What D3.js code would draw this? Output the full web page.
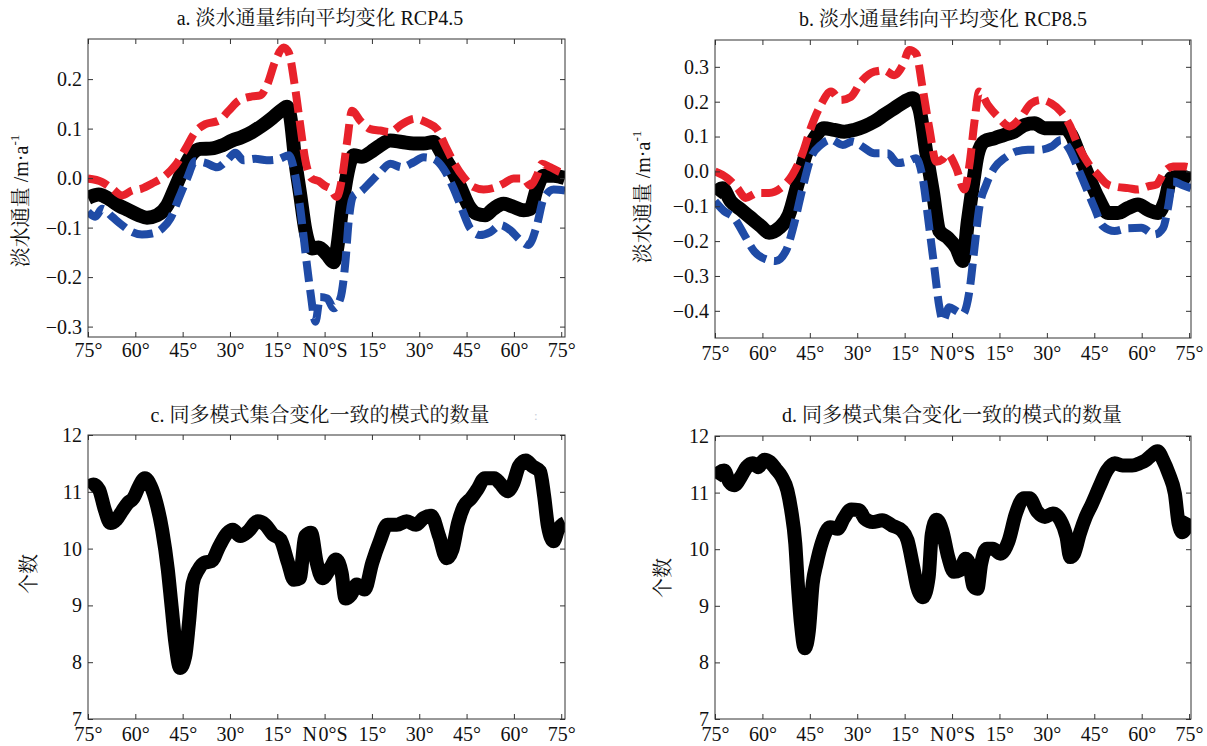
<!DOCTYPE html>
<html><head><meta charset="utf-8">
<script src="https://cdn.jsdelivr.net/npm/d3@7"></script>
<style>
body{margin:0;background:#fff}
</style>
</head><body>
<svg id="chart" width="1207" height="746"></svg>
<script>
// ---------- data (latitude: + = N, - = S) ----------
const latTicks = [75,60,45,30,15,0,-15,-30,-45,-60,-75];
const ticksA = [0.2,0.1,0.0,-0.1,-0.2,-0.3];
const ticksB = [0.3,0.2,0.1,0.0,-0.1,-0.2,-0.3,-0.4];
const ticksCount = [7,8,9,10,11,12];

// panel a: RCP4.5 ensemble mean, upper, lower
const aMean = [[75,-0.040],[71.6,-0.033],[68.4,-0.042],[65.3,-0.055],[62.1,-0.065],[58.9,-0.075],[56.3,-0.080],[53.1,-0.075],[49.9,-0.055],[47.3,-0.018],[44.7,0.019],[42.0,0.049],[39.4,0.059],[35.7,0.060],[32.5,0.066],[29.3,0.076],[26.2,0.083],[23.0,0.093],[19.8,0.106],[16.7,0.121],[13.5,0.138],[11.9,0.144],[10.9,0.125],[9.3,0.035],[7.7,-0.035],[6.1,-0.105],[4.0,-0.142],[1.9,-0.140],[-0.8,-0.155],[-2.9,-0.170],[-3.9,-0.145],[-5.5,-0.062],[-7.1,0.005],[-9.2,0.046],[-11.8,0.043],[-14.5,0.052],[-17.6,0.066],[-20.8,0.076],[-24.5,0.073],[-28.2,0.070],[-31.4,0.070],[-34.5,0.073],[-37.2,0.049],[-40.4,0.016],[-43.0,-0.018],[-45.6,-0.055],[-48.3,-0.072],[-50.9,-0.075],[-53.5,-0.062],[-56.7,-0.052],[-59.9,-0.058],[-63.1,-0.065],[-65.2,-0.062],[-67.3,-0.021],[-69.4,0.005],[-72.6,0.005],[-76.2,0.000]];
const aHigh = [[75,-0.001],[70.5,-0.008],[67.4,-0.021],[64.2,-0.035],[61.0,-0.025],[57.9,-0.021],[54.7,-0.011],[50.5,0.005],[47.3,0.026],[44.1,0.059],[41.0,0.093],[37.8,0.109],[33.6,0.116],[30.4,0.136],[27.3,0.156],[23.0,0.165],[20.4,0.167],[18.3,0.187],[15.6,0.237],[13.0,0.264],[11.4,0.254],[9.3,0.180],[7.7,0.106],[6.1,0.036],[4.0,-0.001],[1.9,-0.006],[-0.2,-0.016],[-1.8,-0.021],[-3.9,-0.038],[-5.5,-0.001],[-7.1,0.072],[-8.7,0.136],[-11.3,0.116],[-14.5,0.099],[-17.6,0.096],[-20.8,0.093],[-24.5,0.109],[-28.7,0.120],[-32.4,0.112],[-35.6,0.099],[-38.2,0.066],[-40.9,0.032],[-44.0,0.002],[-47.2,-0.018],[-50.4,-0.023],[-53.5,-0.020],[-56.7,-0.011],[-59.9,-0.001],[-63.1,-0.001],[-65.2,-0.015],[-67.3,0.005],[-68.9,0.029],[-71.5,0.022],[-74.7,0.012],[-76.2,0.009]];
const aLow = [[75,-0.068],[72.7,-0.078],[70.5,-0.062],[67.4,-0.078],[64.2,-0.095],[61.0,-0.109],[57.9,-0.114],[54.7,-0.112],[51.5,-0.102],[48.9,-0.082],[46.3,-0.042],[43.6,-0.001],[41.0,0.034],[37.8,0.031],[34.1,0.022],[30.9,0.036],[28.3,0.051],[25.7,0.036],[22.0,0.039],[18.3,0.036],[14.6,0.038],[11.4,0.046],[9.3,0.005],[7.7,-0.062],[6.1,-0.149],[4.5,-0.230],[2.9,-0.290],[1.4,-0.240],[-0.8,-0.243],[-2.9,-0.263],[-5.0,-0.243],[-6.6,-0.169],[-7.6,-0.089],[-9.2,-0.035],[-11.3,-0.028],[-14.5,-0.008],[-17.6,0.012],[-20.8,0.029],[-24.5,0.022],[-28.2,0.032],[-31.4,0.042],[-34.5,0.039],[-37.7,0.019],[-40.9,-0.021],[-43.5,-0.062],[-46.2,-0.102],[-49.3,-0.115],[-52.5,-0.109],[-55.7,-0.095],[-58.8,-0.105],[-62.0,-0.125],[-64.6,-0.135],[-67.3,-0.095],[-69.4,-0.042],[-72.6,-0.023],[-76.2,-0.025]];

// panel b: RCP8.5 ensemble mean, upper, lower
const bMean = [[75,-0.067],[72.7,-0.048],[70.0,-0.086],[66.9,-0.109],[63.7,-0.133],[60.5,-0.157],[57.9,-0.176],[54.7,-0.162],[51.6,-0.124],[48.9,-0.038],[46.3,0.048],[43.6,0.095],[40.5,0.124],[37.3,0.119],[34.1,0.114],[31.0,0.119],[27.8,0.129],[24.6,0.143],[21.5,0.162],[18.3,0.181],[15.1,0.200],[12.5,0.210],[10.4,0.181],[8.2,0.057],[6.1,-0.057],[4.0,-0.171],[1.4,-0.190],[-1.3,-0.219],[-3.4,-0.257],[-5.0,-0.143],[-6.6,-0.038],[-8.1,0.048],[-10.2,0.086],[-13.4,0.095],[-16.6,0.105],[-19.7,0.114],[-22.9,0.133],[-26.1,0.138],[-29.2,0.124],[-32.4,0.124],[-35.6,0.124],[-37.7,0.105],[-40.3,0.048],[-43.0,-0.010],[-46.2,-0.076],[-49.3,-0.119],[-52.5,-0.119],[-55.7,-0.105],[-58.8,-0.095],[-62.0,-0.110],[-65.2,-0.119],[-67.3,-0.086],[-69.4,-0.019],[-72.6,-0.014],[-75.6,-0.025]];
const bHigh = [[75,0.000],[71.1,-0.019],[67.9,-0.048],[65.3,-0.076],[61.6,-0.062],[57.9,-0.062],[54.2,-0.048],[50.5,-0.010],[47.3,0.052],[44.7,0.124],[41.5,0.191],[38.3,0.229],[35.2,0.205],[32.0,0.214],[28.8,0.257],[24.6,0.286],[21.5,0.290],[18.3,0.276],[15.6,0.305],[13.5,0.348],[11.4,0.338],[9.3,0.238],[7.2,0.124],[5.0,0.028],[3.0,0.035],[1.4,0.050],[-1.3,0.010],[-3.9,-0.052],[-5.5,0.019],[-7.1,0.143],[-8.6,0.229],[-11.3,0.191],[-14.5,0.157],[-18.2,0.129],[-21.9,0.157],[-25.0,0.195],[-28.2,0.205],[-31.4,0.195],[-34.5,0.171],[-37.2,0.133],[-39.8,0.076],[-43.0,0.024],[-46.2,-0.010],[-49.3,-0.038],[-52.5,-0.045],[-55.7,-0.048],[-58.8,-0.052],[-62.0,-0.043],[-64.6,-0.038],[-67.3,0.000],[-69.9,0.014],[-73.6,0.014],[-75.6,0.010]];
const bLow = [[75,-0.086],[72.1,-0.114],[69.0,-0.133],[65.8,-0.181],[62.6,-0.229],[58.9,-0.252],[55.8,-0.257],[52.6,-0.229],[50.0,-0.152],[47.3,-0.048],[44.7,0.038],[41.5,0.076],[38.3,0.091],[34.6,0.076],[31.5,0.086],[28.3,0.071],[24.6,0.052],[20.4,0.052],[17.2,0.024],[14.0,0.029],[11.4,0.038],[9.3,-0.019],[7.2,-0.162],[5.6,-0.276],[4.0,-0.390],[2.9,-0.429],[0.9,-0.390],[-1.3,-0.400],[-3.4,-0.409],[-5.5,-0.343],[-7.1,-0.219],[-8.6,-0.105],[-10.8,-0.038],[-13.4,0.010],[-16.6,0.038],[-20.3,0.057],[-24.0,0.062],[-27.7,0.062],[-31.4,0.071],[-34.5,0.090],[-37.2,0.062],[-39.8,0.010],[-42.5,-0.048],[-45.1,-0.105],[-47.7,-0.157],[-51.4,-0.171],[-55.7,-0.163],[-59.9,-0.162],[-64.1,-0.181],[-66.8,-0.162],[-68.3,-0.105],[-69.9,-0.029],[-72.6,-0.038],[-75.6,-0.048]];

// panel c / d: number of models agreeing with ensemble change
const cCount = [[75,11.07],[73.3,11.13],[71.5,11.04],[69.7,10.69],[67.9,10.45],[66.0,10.51],[64.2,10.66],[62.4,10.80],[60.6,10.89],[58.8,11.10],[57.0,11.24],[55.1,11.10],[53.3,10.80],[51.5,10.33],[49.7,9.63],[48.5,8.98],[47.3,8.34],[45.8,7.90],[44.2,8.10],[43.0,8.69],[41.8,9.39],[40.0,9.63],[38.2,9.75],[35.8,9.78],[33.4,10.04],[30.9,10.27],[29.1,10.33],[26.7,10.22],[24.3,10.30],[21.2,10.48],[18.8,10.42],[16.4,10.25],[14.0,10.16],[11.6,9.75],[9.7,9.45],[7.9,9.48],[6.1,10.22],[4.3,10.28],[2.5,9.75],[0.7,9.48],[-1.8,9.66],[-3.6,9.81],[-5.4,9.57],[-6.6,9.12],[-8.4,9.19],[-10.2,9.37],[-12.7,9.28],[-15.1,9.75],[-17.5,10.13],[-19.9,10.42],[-22.9,10.42],[-26.0,10.48],[-29.0,10.42],[-31.4,10.54],[-33.8,10.58],[-36.3,10.22],[-38.7,9.83],[-40.5,9.98],[-42.3,10.45],[-44.1,10.74],[-46.5,10.89],[-48.4,11.04],[-50.8,11.24],[-53.8,11.24],[-55.6,11.15],[-58.0,11.01],[-59.8,11.15],[-61.6,11.45],[-63.8,11.55],[-65.9,11.45],[-68.3,11.36],[-69.6,10.92],[-70.8,10.39],[-72.6,10.13],[-74.0,10.33],[-76.2,10.45]];
const dCount = [[75,11.25],[73.5,11.36],[72.1,11.39],[70.5,11.19],[68.9,11.13],[66.8,11.28],[65.0,11.45],[63.1,11.52],[61.3,11.45],[59.4,11.58],[57.6,11.54],[55.8,11.42],[53.9,11.28],[52.1,11.04],[50.9,10.69],[49.6,10.10],[48.8,9.39],[47.8,8.68],[46.6,8.25],[45.3,8.56],[44.1,9.39],[42.9,9.74],[41.1,10.13],[38.6,10.39],[36.2,10.36],[34.3,10.54],[31.9,10.70],[29.4,10.69],[27.6,10.54],[25.1,10.48],[22.1,10.51],[19.0,10.42],[15.9,10.33],[14.1,10.16],[12.3,9.69],[11.0,9.33],[9.2,9.15],[7.4,9.51],[6.4,10.27],[4.9,10.52],[3.1,10.33],[1.2,9.86],[-0.6,9.60],[-2.5,9.63],[-4.3,9.83],[-5.5,9.74],[-6.7,9.35],[-8.0,9.30],[-9.2,9.74],[-11.0,10.01],[-12.9,10.01],[-15.3,9.92],[-17.8,10.13],[-20.2,10.63],[-22.7,10.90],[-24.5,10.90],[-27.0,10.66],[-29.4,10.57],[-31.9,10.63],[-34.3,10.51],[-36.2,10.22],[-37.4,9.86],[-38.6,9.92],[-40.4,10.27],[-42.3,10.57],[-44.1,10.78],[-46.6,11.10],[-49.0,11.39],[-51.5,11.52],[-53.9,11.48],[-57.0,11.48],[-59.4,11.52],[-61.3,11.57],[-63.1,11.66],[-65.0,11.73],[-66.8,11.57],[-68.6,11.33],[-70.5,10.98],[-71.7,10.45],[-72.9,10.30],[-74.2,10.39],[-75.6,10.54]];

const titles = ["a. 淡水通量纬向平均变化 RCP4.5","b. 淡水通量纬向平均变化 RCP8.5","c. 同多模式集合变化一致的模式的数量","d. 同多模式集合变化一致的模式的数量"];

// ---------- layout ----------
const FONT = '"Liberation Serif", "Noto Serif CJK SC", "Noto Sans CJK SC", serif';
const INK = "#111";
const RED = "#e8222b", BLUE = "#1f4ba6", BLACK = "#000";
const DASH = "21,8";
const TICK_FS = 20;
const panels = [
  {box:[88,39,565,337], xDom:[75,-76.2], yDom:[-0.321,0.281], yTicks:ticksA, fmt:d3.format(".1f"),
   series:[{d:aMean,c:BLACK,w:14},{d:aLow,c:BLUE,w:8,dash:DASH},{d:aHigh,c:RED,w:8,dash:DASH}],
   title:titles[0], tx:320, ty:25, ylab:"flux", lx:21, ly:201, xpad:6},
  {box:[715,40,1191,338], xDom:[75,-75.6], yDom:[-0.478,0.377], yTicks:ticksB, fmt:d3.format(".1f"),
   series:[{d:bMean,c:BLACK,w:14},{d:bLow,c:BLUE,w:8,dash:DASH},{d:bHigh,c:RED,w:8,dash:DASH}],
   title:titles[1], tx:943, ty:26, ylab:"flux", lx:643, ly:197, xpad:8},
  {box:[88,435,565,719], xDom:[75,-76.2], yDom:[7,12], yTicks:ticksCount, fmt:d3.format("d"),
   series:[{d:cCount,c:BLACK,w:14}],
   title:titles[2], tx:320, ty:422, ylab:"count", lx:29, ly:574, xpad:7.5},
  {box:[715,436,1191,719], xDom:[75,-75.6], yDom:[7,12], yTicks:ticksCount, fmt:d3.format("d"),
   series:[{d:dCount,c:BLACK,w:14}],
   title:titles[3], tx:952, ty:422, ylab:"count", lx:663, ly:578, xpad:7.5}
];

const svg = d3.select("#chart").attr("font-family", FONT);
svg.append("rect").attr("width",1207).attr("height",746).attr("fill","#fff");
const latFmt = d => d === 0 ? "N\u200A0°S" : Math.abs(d) + "°";

panels.forEach((p,i) => {
  const [x0,y0,x1,y1] = p.box;
  const x = d3.scaleLinear().domain(p.xDom).range([x0,x1]);
  const y = d3.scaleLinear().domain(p.yDom).range([y1,y0]);
  const g = svg.append("g");

  const clipId = "clip" + i;
  svg.append("clipPath").attr("id",clipId).append("rect")
    .attr("x",x0).attr("y",y0).attr("width",x1-x0).attr("height",y1-y0);

  const line = d3.line().x(d=>x(d[0])).y(d=>y(d[1])).curve(d3.curveMonotoneX);
  const lg = g.append("g").attr("clip-path",`url(#${clipId})`);
  p.series.forEach(s => {
    lg.append("path").datum(s.d).attr("d",line)
      .attr("fill","none").attr("stroke",s.c).attr("stroke-width",s.w)
      .attr("stroke-linejoin","round")
      .attr("stroke-linecap","butt")
      .attr("stroke-dasharray", s.dash || null);
  });

  // axes
  const styleAxis = sel => {
    sel.select(".domain").remove();
    sel.attr("font-family", FONT).attr("font-size", TICK_FS);
    sel.selectAll("line").attr("stroke","#333");
    sel.selectAll("text").attr("font-family", FONT).attr("font-size",TICK_FS).attr("fill",INK);
  };
  g.append("g").attr("transform",`translate(0,${y1})`)
    .call(d3.axisBottom(x).tickValues(latTicks).tickSizeInner(-5).tickSizeOuter(0).tickPadding(p.xpad).tickFormat(latFmt))
    .call(styleAxis);
  g.append("g").attr("transform",`translate(0,${y0})`)
    .call(d3.axisTop(x).tickValues(latTicks).tickSizeInner(-5).tickSizeOuter(0).tickFormat(""))
    .call(styleAxis);
  g.append("g").attr("transform",`translate(${x0},0)`)
    .call(d3.axisLeft(y).tickValues(p.yTicks).tickSizeInner(-5).tickSizeOuter(0).tickPadding(6).tickFormat(p.fmt))
    .call(styleAxis);
  g.append("g").attr("transform",`translate(${x1},0)`)
    .call(d3.axisRight(y).tickValues(p.yTicks).tickSizeInner(-5).tickSizeOuter(0).tickFormat(""))
    .call(styleAxis);

  g.append("rect").attr("x",x0).attr("y",y0).attr("width",x1-x0).attr("height",y1-y0)
    .attr("fill","none").attr("stroke","#333").attr("stroke-width",1);

  // title
  g.append("text").attr("x",p.tx).attr("y",p.ty).attr("text-anchor","middle")
    .attr("font-family", FONT).attr("fill", INK).attr("font-size",20).text(p.title);

  // y label
  const yl = g.append("text").attr("transform",`translate(${p.lx},${p.ly}) rotate(-90)`)
    .attr("text-anchor","middle").attr("dy","0.36em").attr("font-size",20)
    .attr("font-family", FONT).attr("fill", INK);
  if (p.ylab === "flux") {
    yl.append("tspan").text("淡水通量 /m·a");
    yl.append("tspan").attr("font-size",13).attr("dy","-0.7em").text("-1");
  } else {
    yl.text("个数");
  }
});

// faint scan mark next to panel c title
svg.append("text").attr("x",534).attr("y",420).attr("font-size",13)
  .attr("font-family", FONT).attr("fill","#c8cdd8").text(":");
</script>
</body></html>
